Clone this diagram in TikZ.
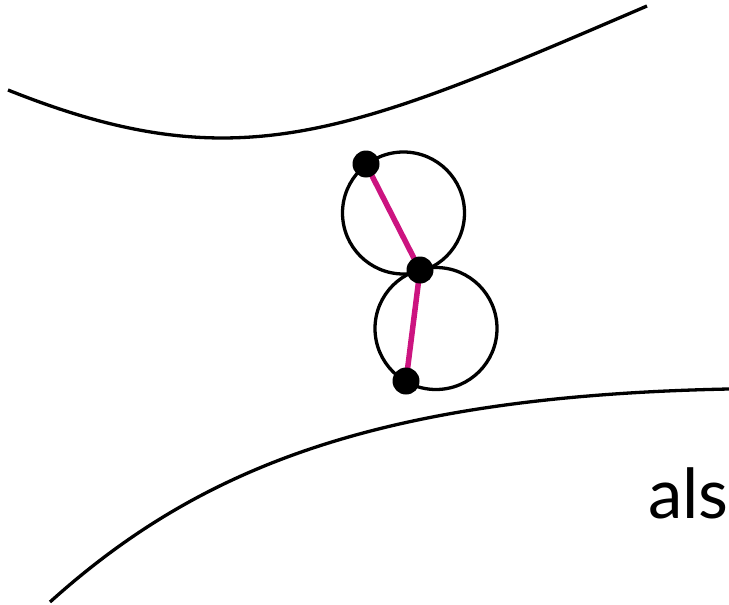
\documentclass[tikz,border=0pt]{standalone}
\usepackage{fontspec}
\setmainfont{Lato}
\definecolor{linkmag}{RGB}{204,20,128}
\begin{document}
\begin{tikzpicture}[x=1pt,y=-1pt,
  wall/.style={line width=3.3pt,black},
  ring/.style={line width=3.3pt,black},
  link/.style={line width=5.5pt,linkmag},
  joint/.style={circle,fill=black,minimum size=27pt,inner sep=0pt}]
\useasboundingbox (0,0) rectangle (729,605);
\coordinate (u0) at (8,90);
\coordinate (u1) at (647,6);
\coordinate (l0) at (50,602);
\coordinate (l1) at (729,389);
\draw[wall] (u0) .. controls (238,182) and (347,135) .. (u1);
\draw[wall] (l0) .. controls (200,467) and (379,396) .. (l1);
\node[ring,draw,circle,minimum size=122pt,inner sep=0pt] (c1) at (403.5,213) {};
\node[ring,draw,circle,minimum size=122pt,inner sep=0pt] (c2) at (436,328.5) {};
\coordinate (pa) at (366,164);
\coordinate (pb) at (420,270);
\coordinate (pc) at (406,381);
\draw[link] (pa) -- (pb) -- (pc);
\node[joint] (ja) at (pa) {};
\node[joint] (jb) at (pb) {};
\node[joint] (jc) at (pc) {};
\node[anchor=base east,inner sep=0pt,font=\fontsize{69}{80}\selectfont] (lbl) at (729,518) {als};
\end{tikzpicture}
\end{document}
